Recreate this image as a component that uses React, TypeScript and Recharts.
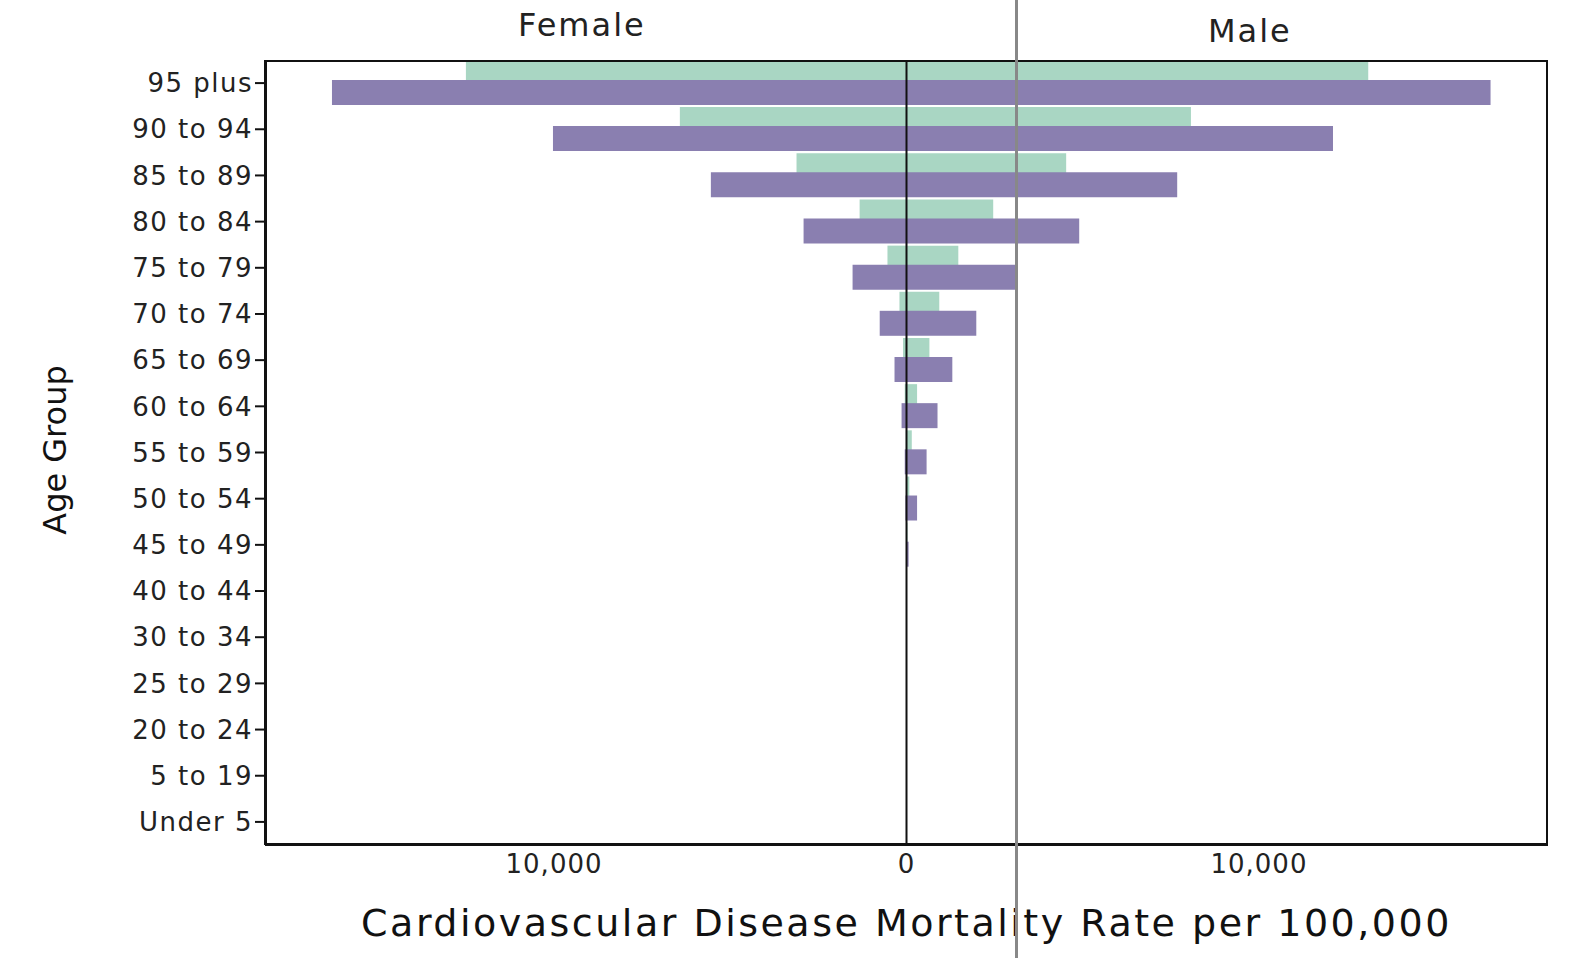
import React from "react";
import { BarChart, Bar, XAxis, YAxis, ReferenceLine } from "recharts";

const ageGroups = [
  "95 plus", "90 to 94", "85 to 89", "80 to 84", "75 to 79", "70 to 74", "65 to 69",
  "60 to 64", "55 to 59", "50 to 54", "45 to 49", "40 to 44", "30 to 34", "25 to 29",
  "20 to 24", "5 to 19", "Under 5",
];
// green (upper) bars
const greenFemale = [-12500, -6430, -3120, -1330, -540, -200, -100, -50, -20, -10, -5, 0, 0, 0, 0, 0, 0];
const greenMale = [13100, 8070, 4530, 2460, 1470, 930, 650, 300, 150, 80, 30, 10, 0, 0, 0, 0, 0];
// purple (lower) bars
const purpleFemale = [-16300, -10030, -5550, -2920, -1530, -760, -340, -140, -50, -30, -10, 0, 0, 0, 0, 0, 0];
const purpleMale = [16570, 12100, 7680, 4900, 3140, 1980, 1300, 880, 570, 300, 60, 10, 0, 0, 0, 0, 0];
const xTicks = [-10000, 0, 10000];

const data = ageGroups.map((g, i) => ({
  group: g,
  gf: greenFemale[i],
  gm: greenMale[i],
  pf: purpleFemale[i],
  pm: purpleMale[i],
}));

const font = "'DejaVu Sans', sans-serif";

export default function App() {
  document.body.style.margin = "0";
  return (
    <div style={{ position: "relative", width: 1594, height: 958, background: "#fff", fontFamily: font }}>
      <div style={{ position: "absolute", left: 518, top: 6, fontSize: 32, letterSpacing: 2, color: "#222" }}>Female</div>
      <div style={{ position: "absolute", left: 1208, top: 12, fontSize: 32, letterSpacing: 2, color: "#222" }}>Male</div>
      <div
        style={{
          position: "absolute", left: 55, top: 450, fontSize: 32, color: "#111",
          transform: "translate(-50%, -50%) rotate(-90deg)", whiteSpace: "nowrap",
        }}
      >
        Age Group
      </div>
      <BarChart
        width={1580}
        height={950}
        data={data}
        layout="vertical"
        stackOffset="sign"
        barGap={-6}
        barCategoryGap="2%"
        margin={{ top: 60, right: 32, left: 0, bottom: 0 }}
      >
        <XAxis
          type="number"
          domain={[-18200, 18200]}
          ticks={xTicks}
          tickFormatter={(v: number) => Math.abs(v).toLocaleString("en-US")}
          tick={{ fontSize: 26, fill: "#222", fontFamily: font, letterSpacing: 1 }}
          tickLine={false}
          tickMargin={4}
          axisLine={{ stroke: "#111", strokeWidth: 2 }}
          height={105}
          label={{ value: "Cardiovascular Disease Mortality Rate per 100,000", position: "insideBottom", offset: 14, fontSize: 38, letterSpacing: 2.5, fill: "#111", fontFamily: font }}
        />
        <YAxis
          type="category"
          dataKey="group"
          width={265}
          tick={{ fontSize: 26, fill: "#222", fontFamily: font, letterSpacing: 1.5 }}
          tickLine={{ stroke: "#111", strokeWidth: 2 }}
          tickSize={10}
          axisLine={{ stroke: "#111", strokeWidth: 2 }}
        />
        <Bar dataKey="gf" stackId="g" fill="#a9d6c3" isAnimationActive={false} />
        <Bar dataKey="gm" stackId="g" fill="#a9d6c3" isAnimationActive={false} />
        <Bar dataKey="pf" stackId="p" fill="#8a7fb0" isAnimationActive={false} />
        <Bar dataKey="pm" stackId="p" fill="#8a7fb0" isAnimationActive={false} />
        <ReferenceLine x={0} stroke="#111" strokeWidth={2} />
      </BarChart>
      <div style={{ position: "absolute", left: 265, top: 60, width: 1283, height: 785, border: "2px solid #111", boxSizing: "border-box", pointerEvents: "none" }} />
      <div style={{ position: "absolute", left: 1015, top: 0, width: 3, height: 958, background: "#888" }} />
    </div>
  );
}
